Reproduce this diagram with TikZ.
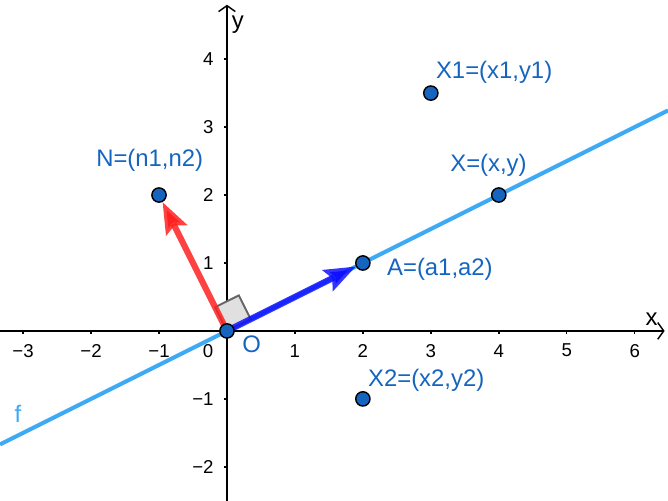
\documentclass[tikz,border=0pt]{standalone}
\usepackage{fontspec}
\setmainfont{Liberation Sans}
\usepackage{xcolor}
\usetikzlibrary{arrows.meta, positioning, calc}
\definecolor{ptblue}{HTML}{1565C0}
\definecolor{lineblue}{HTML}{3DAAF5}
\definecolor{vecred}{HTML}{FF2020}
\definecolor{vecblue}{HTML}{1010FF}
\pgfdeclarelayer{bg}
\pgfsetlayers{bg,main}
\tikzset{
    point/.style={
        circle,
        draw=black,
        fill=ptblue,
        line width=0.6pt,
        inner sep=0pt,
        minimum size=2.1mm,
    },
    ptlabel/.style={
        text=ptblue,
        font=\fontsize{10}{12}\selectfont,
        anchor=west,
        inner sep=0pt,
    },
    ticklabel/.style={
        font=\fontsize{7.8}{9}\selectfont,
        inner sep=0pt,
    },
    axis/.style={
        line width=0.6pt,
        -{Straight Barb[length=2.5pt, width=7pt]},
    },
    vector/.style={
        line width=2.6pt,
        draw opacity=0.85,
        -{Stealth[length=13pt, width=9.5pt, inset=2pt]},
    },
    rightangle/.style={
        draw=black!60,
        fill=black!12,
        line width=0.8pt,
    },
}

\begin{document}
\begin{tikzpicture}
    \useasboundingbox (-3.34,-2.5) rectangle (6.49,4.87);

    % points
    \node[point] (O) at (0,0) {};
    \node[point] (A) at (2,1) {};
    \node[point] (N) at (-1,2) {};
    \node[point] (X) at (4,2) {};
    \node[point] (X1) at (3,3.5) {};
    \node[point] (X2) at (2,-1) {};

    % ends of the axes and of f
    \coordinate (xmin) at (-3.34,0);
    \coordinate (xmax) at (6.44,0);
    \coordinate (ymin) at (0,-2.5);
    \coordinate (ymax) at (0,4.8);
    \coordinate (fstart) at (-3.34,-1.67);
    \coordinate (fend) at (6.49,3.245);

    \begin{pgfonlayer}{bg}
      \draw[lineblue, line width=1.7pt] (fstart) -- (fend);

      \draw[axis] (xmin) -- (xmax);
      \draw[axis] (ymin) -- (ymax);

      \foreach \i in {-3,-2,-1,1,2,3,4,5,6} {
        \draw[line width=0.6pt] (\i,0) -- (\i,-0.05);
        \node[ticklabel] at (\i,-0.29) {\ifnum\i<0 −\the\numexpr-\i\relax\else\i\fi};
      }
      \foreach \j in {-2,-1,1,2,3,4} {
        \draw[line width=0.6pt] (0,\j) -- (-0.05,\j);
        \node[ticklabel, anchor=east] at (-0.19,\j) {\ifnum\j<0 −\the\numexpr-\j\relax\else\j\fi};
      }
      \node[ticklabel] at (-0.28,-0.29) {0};

      \draw[rightangle] (0,0) -- ++(0.349,0.174) -- ++(-0.174,0.349)
        -- ++(-0.349,-0.174) -- cycle;

      \draw[vector, vecred] (O.center) -- (N);
      \draw[vector, vecblue] (O.center) -- (A);
    \end{pgfonlayer}

    % labels
    \node[font=\fontsize{10}{12}\selectfont] (xlab) at (6.25,0.18) {x};
    \node[font=\fontsize{10}{12}\selectfont] (ylab) at (0.16,4.5) {y};
    \node[ptlabel, text=lineblue] (flab) at (-3.13,-1.22) {f};
    \node[ptlabel] (Olab) at (0.22,-0.19) {O};
    \node[ptlabel] (Alab) at (2.35,0.9) {A=(a1,a2)};
    \node[ptlabel] (Nlab) at (-1.93,2.51) {N=(n1,n2)};
    \node[ptlabel] (Xlab) at (3.28,2.43) {X=(x,y)};
    \node[ptlabel] (X1lab) at (3.07,3.81) {X1=(x1,y1)};
    \node[ptlabel] (X2lab) at (2.07,-0.72) {X2=(x2,y2)};

\end{tikzpicture}
\end{document}
